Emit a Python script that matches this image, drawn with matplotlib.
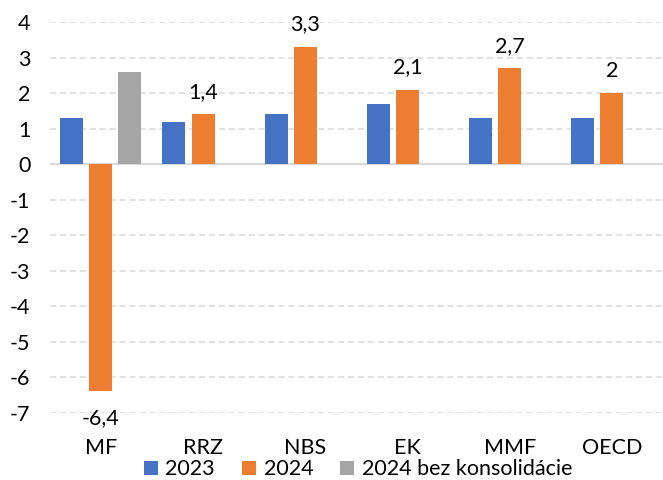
import matplotlib
matplotlib.use('Agg')
import matplotlib.pyplot as plt
import numpy as np

# Údaje z grafu
kategorie = ['MF', 'RRZ', 'NBS', 'EK', 'MMF', 'OECD']
rok_2023 = [1.3, 1.2, 1.4, 1.7, 1.3, 1.3]
rok_2024 = [-6.4, 1.4, 3.3, 2.1, 2.7, 2.0]
bez_konsolidacie = [2.6, np.nan, np.nan, np.nan, np.nan, np.nan]
y_ticks = list(range(-7, 5))

plt.rcParams['font.family'] = ['Lato', 'DejaVu Sans']

fig = plt.figure(figsize=(6.63, 4.8), dpi=100)
ax = fig.add_axes([0.075, 0.14, 0.925, 0.814])

x = np.arange(len(kategorie))
sirka = 0.225
posun = 0.285

ax.bar(x - posun, rok_2023, sirka, color='#4472C4', label='2023', zorder=3)
ax.bar(x, rok_2024, sirka, color='#ED7D31', label='2024', zorder=3)
ax.bar(x + posun, bez_konsolidacie, sirka, color='#A5A5A5',
       label='2024 bez konsolidácie', zorder=3)

# Popisky hodnôt pre 2024
for xi, v in zip(x, rok_2024):
    txt = f"{v:g}".replace('.', ',')
    if v >= 0:
        ax.annotate(txt, (xi, v), xytext=(0, 9), textcoords='offset points',
                    ha='center', va='bottom', fontsize=15.5)
    else:
        ax.annotate(txt, (xi, v), xytext=(0, -12), textcoords='offset points',
                    ha='center', va='top', fontsize=15.5)

ax.set_xlim(-0.5, len(kategorie) - 0.5)
ax.set_ylim(-7, 4)
ax.set_yticks(y_ticks)
ax.set_yticklabels([str(t) for t in y_ticks])
ax.set_xticks(x)
ax.set_xticklabels(kategorie)
ax.tick_params(axis='y', length=0, pad=14, labelsize=15.5)
ax.tick_params(axis='x', length=0, pad=18, labelsize=15.5)

ax.grid(axis='y', color='#D9D9D9', linestyle=(0, (4, 2.5)), linewidth=1.1, zorder=0)
ax.axhline(0, color='#D9D9D9', linewidth=1.6, zorder=2)
for s in ax.spines.values():
    s.set_visible(False)

fig.legend(loc='center', bbox_to_anchor=(0.54, 0.022), ncol=3, frameon=False,
           fontsize=15.5, handlelength=0.65, handleheight=0.65, handletextpad=0.35,
           columnspacing=1.25, borderpad=0)

plt.savefig('out.png', dpi=100)
plt.close()
